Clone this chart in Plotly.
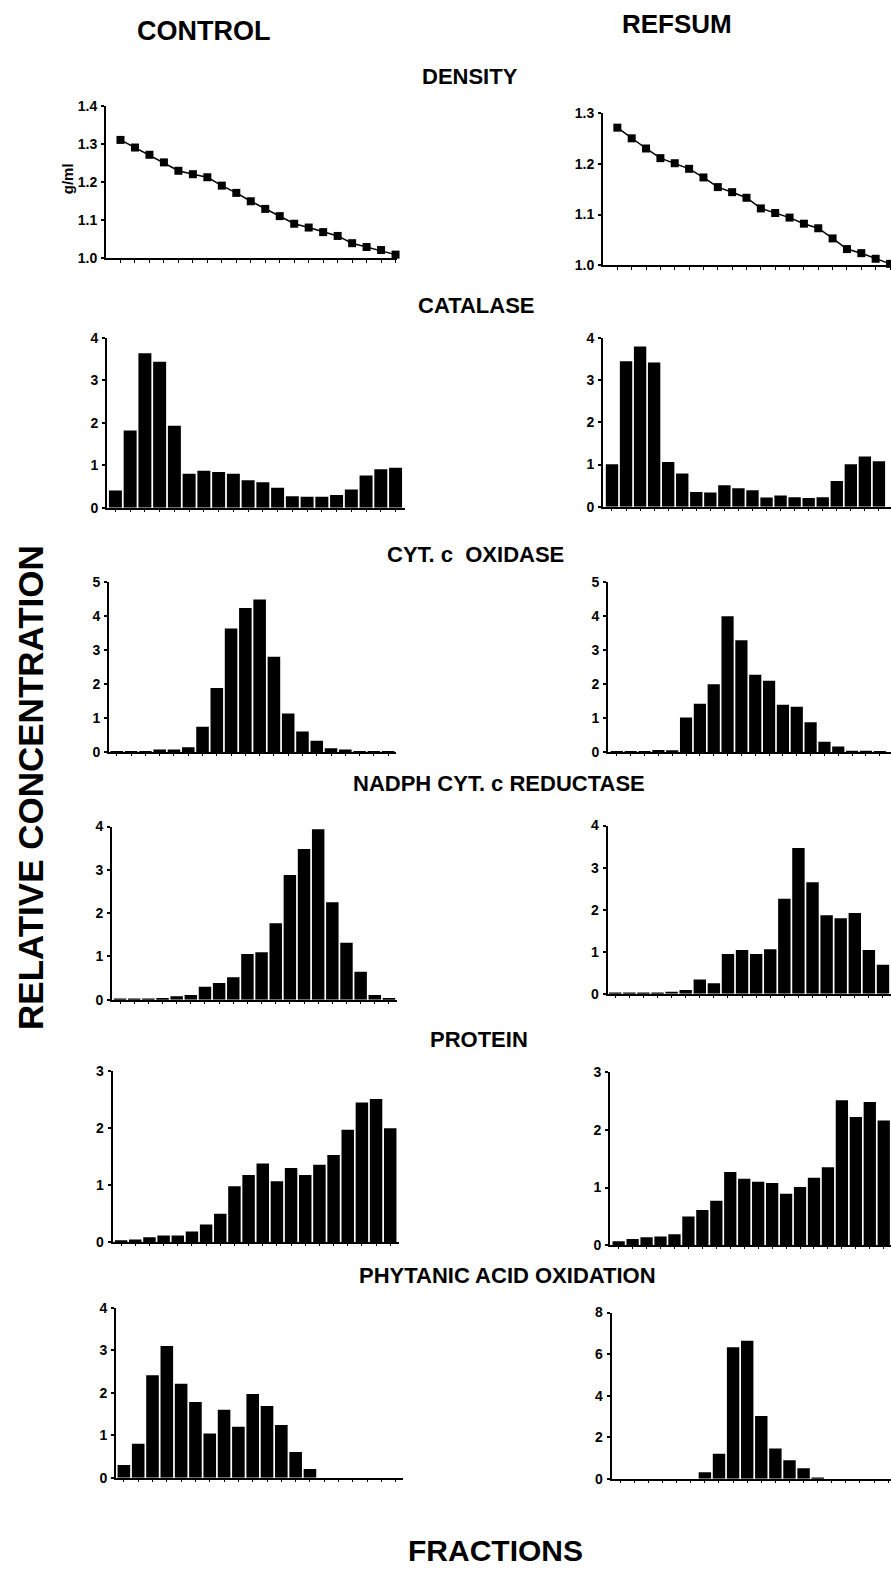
import plotly.graph_objects as go

W, H = 891, 1570

# ---------------- data ----------------
fractions = list(range(1, 21))

density_control = [1.311, 1.291, 1.272, 1.252, 1.230, 1.221, 1.213, 1.191, 1.172, 1.150,
                   1.130, 1.111, 1.091, 1.081, 1.069, 1.059, 1.040, 1.030, 1.022, 1.010]
density_refsum = [1.271, 1.250, 1.230, 1.211, 1.201, 1.190, 1.173, 1.154, 1.144, 1.133,
                  1.112, 1.103, 1.094, 1.082, 1.073, 1.053, 1.032, 1.024, 1.013, 1.003]

catalase_control = [0.41, 1.82, 3.63, 3.43, 1.93, 0.80, 0.87, 0.84, 0.80, 0.65,
                    0.60, 0.47, 0.27, 0.26, 0.26, 0.30, 0.43, 0.76, 0.91, 0.94]
catalase_refsum = [1.01, 3.44, 3.79, 3.41, 1.06, 0.79, 0.35, 0.34, 0.51, 0.44,
                   0.39, 0.22, 0.27, 0.23, 0.21, 0.23, 0.61, 1.01, 1.19, 1.08]

cytox_control = [0.02, 0.02, 0.02, 0.08, 0.08, 0.15, 0.75, 1.89, 3.64, 4.24,
                 4.49, 2.81, 1.14, 0.61, 0.34, 0.12, 0.08, 0.02, 0.02, 0.02]
cytox_refsum = [0.02, 0.03, 0.03, 0.07, 0.06, 1.02, 1.43, 2.00, 4.00, 3.29,
                2.28, 2.10, 1.40, 1.34, 0.88, 0.31, 0.17, 0.05, 0.05, 0.02]

nadph_control = [0.01, 0.01, 0.01, 0.04, 0.08, 0.11, 0.30, 0.39, 0.52, 1.06,
                 1.10, 1.77, 2.88, 3.48, 3.94, 2.25, 1.32, 0.65, 0.11, 0.04]
nadph_refsum = [0.01, 0.01, 0.01, 0.02, 0.05, 0.09, 0.34, 0.25, 0.95, 1.04,
                0.95, 1.06, 2.26, 3.47, 2.65, 1.87, 1.80, 1.92, 1.04, 0.69]

protein_control = [0.035, 0.05, 0.09, 0.12, 0.12, 0.19, 0.31, 0.50, 0.98, 1.18,
                   1.38, 1.07, 1.30, 1.18, 1.36, 1.53, 1.97, 2.45, 2.51, 2.00]
protein_refsum = [0.07, 0.11, 0.14, 0.15, 0.19, 0.50, 0.61, 0.77, 1.27, 1.15,
                  1.10, 1.08, 0.89, 1.01, 1.17, 1.35, 2.51, 2.22, 2.48, 2.16]

phytanic_control = [0.30, 0.80, 2.41, 3.10, 2.21, 1.78, 1.04, 1.60, 1.20, 1.97,
                    1.69, 1.24, 0.61, 0.21, 0.0, 0.0, 0.0, 0.0, 0.0, 0.0]
phytanic_refsum = [0.0, 0.0, 0.0, 0.0, 0.0, 0.0, 0.32, 1.21, 6.33, 6.65,
                   3.02, 1.46, 0.89, 0.51, 0.03, 0.0, 0.0, 0.0, 0.0, 0.0]

column_titles = ["CONTROL", "REFSUM"]
panel_titles = ["DENSITY", "CATALASE", "CYT. c  OXIDASE", "NADPH CYT. c REDUCTASE",
                "PROTEIN", "PHYTANIC ACID OXIDATION"]
y_title = "RELATIVE CONCENTRATION"
x_title = "FRACTIONS"
density_unit = "g/ml"

density_ticks_control = [1.0, 1.1, 1.2, 1.3, 1.4]
density_ticks_refsum = [1.0, 1.1, 1.2, 1.3]
catalase_ticks = [0, 1, 2, 3, 4]
cytox_ticks = [0, 1, 2, 3, 4, 5]
nadph_ticks = [0, 1, 2, 3, 4]
protein_ticks = [0, 1, 2, 3]
phytanic_ticks_control = [0, 1, 2, 3, 4]
phytanic_ticks_refsum = [0, 2, 4, 6, 8]

# ---------------- layout spec (pixel positions) ----------------
# (values, kind, ticks, yrange, tickfmt, x_px(left,right), y_px(top,bottom), xrange)
panels = [
    (density_control, "line", density_ticks_control, [1.0, 1.4], ".1f", (106, 397), (99, 253), [0.0, 20.1]),
    (density_refsum, "line", density_ticks_refsum, [1.0, 1.3], ".1f", (603, 891), (106, 260), [0.0, 20.07]),
    (catalase_control, "bar", catalase_ticks, [0, 4], "d", (107, 405), (333, 505), [0.43, 20.64]),
    (catalase_refsum, "bar", catalase_ticks, [0, 4], "d", (603, 891), (333, 504), [0.36, 20.86]),
    (cytox_control, "bar", cytox_ticks, [0, 5], "d", (109, 396), (580, 752), [0.45, 20.55]),
    (cytox_refsum, "bar", cytox_ticks, [0, 5], "d", (608, 891), (580, 752), [0.36, 20.81]),
    (nadph_control, "bar", nadph_ticks, [0, 4], "d", (112, 397), (827, 1002), [0.43, 20.57]),
    (nadph_refsum, "bar", nadph_ticks, [0, 4], "d", (607.5, 891), (826, 996), [0.45, 20.57]),
    (protein_control, "bar", protein_ticks, [0, 3], "d", (112.5, 399), (1074, 1247), [0.39, 20.62]),
    (protein_refsum, "bar", protein_ticks, [0, 3], "d", (610, 891), (1075, 1250), [0.38, 20.52]),
    (phytanic_control, "bar", phytanic_ticks_control, [0, 4], "d", (116, 403), (1313, 1485), [0.45, 20.5]),
    (phytanic_refsum, "bar", phytanic_ticks_refsum, [0, 8], "d", (611.7, 891), (1318, 1486), [0.39, 20.2]),
]

FONT = "Liberation Sans, Arial, sans-serif"

fig = go.Figure()
layout = {}

for i, (vals, kind, ticks, yr, fmt, xpx, ypx, xr) in enumerate(panels, start=1):
    xa = "x" if i == 1 else f"x{i}"
    ya = "y" if i == 1 else f"y{i}"
    if kind == "line":
        fig.add_trace(go.Scatter(
            x=fractions, y=vals, xaxis=xa, yaxis=ya, mode="lines+markers",
            line=dict(color="black", width=1.5),
            marker=dict(symbol="square", size=8, color="black"),
            showlegend=False, cliponaxis=False, hoverinfo="skip"))
    else:
        fig.add_trace(go.Bar(
            x=fractions, y=vals, xaxis=xa, yaxis=ya,
            marker=dict(color="black", line=dict(width=0)),
            showlegend=False, hoverinfo="skip"))
    xkey = "xaxis" if i == 1 else f"xaxis{i}"
    ykey = "yaxis" if i == 1 else f"yaxis{i}"
    layout[xkey] = dict(
        domain=[xpx[0] / W, min(xpx[1] / W, 1.0)], range=xr, anchor=ya,
        showline=True, linecolor="black", linewidth=2, mirror=False,
        ticks="outside", ticklen=3 if kind == "line" else 2, tickwidth=1, tickcolor="black",
        tickvals=fractions, showticklabels=False, showgrid=False, zeroline=False,
        fixedrange=True)
    layout[ykey] = dict(
        domain=[1 - ypx[1] / H, 1 - ypx[0] / H], range=yr, anchor=xa,
        showline=True, linecolor="black", linewidth=2,
        ticks="outside", ticklen=3, tickwidth=1.5, tickcolor="black",
        tickvals=ticks, ticktext=[format(t, fmt) for t in ticks],
        tickfont=dict(family=FONT, size=14, color="black", weight="bold"),
        ticklabelstandoff=1,
        showgrid=False, zeroline=False, fixedrange=True)

def ann(text, xpx, ypx, size, angle=0):
    return dict(text=text, x=xpx / W, y=1 - ypx / H, xref="paper", yref="paper",
                showarrow=False, textangle=angle, xanchor="center", yanchor="middle",
                font=dict(family=FONT, size=size, color="black", weight="bold"))

annotations = [
    ann(column_titles[0], 203, 23, 27),
    ann(column_titles[1], 677, 16, 26),
    ann(panel_titles[0], 470, 69, 22),
    ann(panel_titles[1], 476, 301, 22),
    ann(panel_titles[2], 475, 552, 22),
    ann(panel_titles[3], 499, 783, 22),
    ann(panel_titles[4], 479, 1042, 22),
    ann(panel_titles[5], 508, 1281, 22),
    ann(y_title, 31, 788, 35, -90),
    ann(x_title, 495, 1558, 30),
    ann(density_unit, 67, 173, 15, -90),
]

fig.update_layout(
    width=W, height=H, margin=dict(l=0, r=0, t=0, b=0),
    paper_bgcolor="white", plot_bgcolor="white",
    bargap=0.12, annotations=annotations, showlegend=False,
    **layout)

fig.write_html("out.html", config={"displayModeBar": False})
